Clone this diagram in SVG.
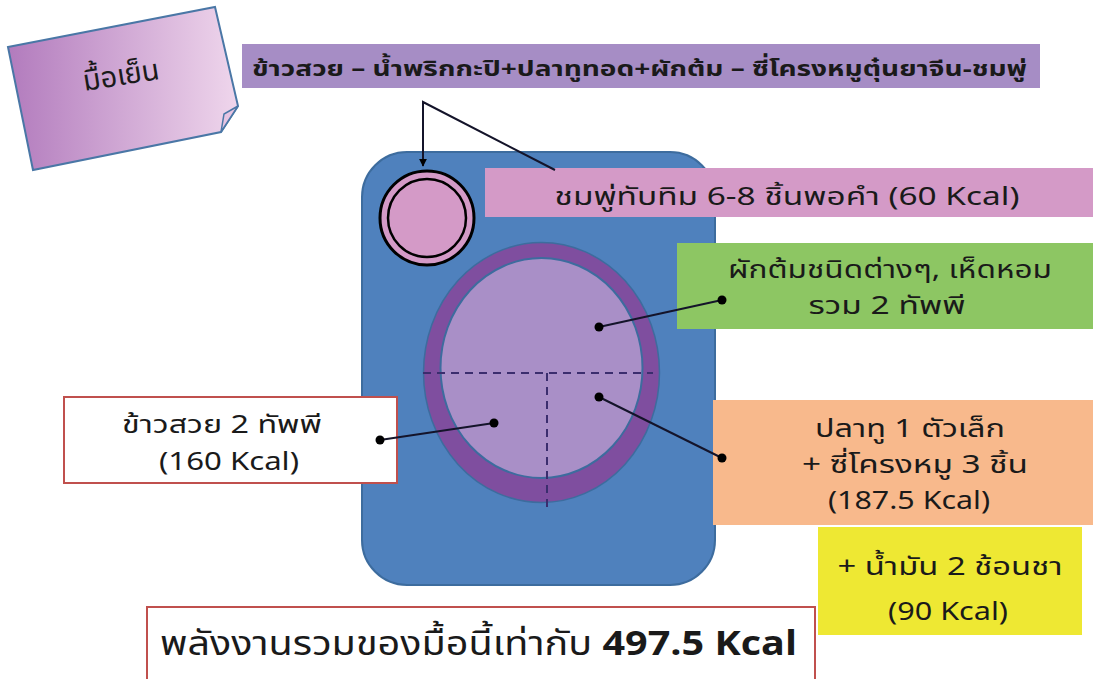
<svg xmlns="http://www.w3.org/2000/svg" width="1093" height="679" viewBox="0 0 1093 679">
<style>
text{font-family:"Noto Sans Thai","Noto Sans","DejaVu Sans",sans-serif;fill:#1a1a1a;}
.t26{font-size:25px;text-anchor:middle;}
.conn{stroke:#14142a;stroke-width:2;fill:none;}
.dot{fill:#000;}
.dash{stroke:#3b2d6e;stroke-width:2;stroke-dasharray:8 6;fill:none;}
</style>
<defs>
<linearGradient id="noteGrad" x1="0" y1="0" x2="1" y2="0">
<stop offset="0" stop-color="#b27bbd"/>
<stop offset="1" stop-color="#efd6ec"/>
</linearGradient>
<marker id="arr" viewBox="0 0 10 10" refX="9" refY="5" markerWidth="4" markerHeight="4" orient="auto">
<path d="M0,0 L10,5 L0,10 z" fill="#000"/>
</marker>
</defs>
<rect width="1093" height="679" fill="#ffffff"/>

<g id="note">
<polygon points="8,47 215,7 238,106 221,132 33,170" fill="url(#noteGrad)" stroke="#4a77a6" stroke-width="2"/>
<polygon points="238,106 221,132 224,114" fill="#e6c4e2" stroke="#4a77a6" stroke-width="1.5"/>
<text x="121" y="85" font-size="29" text-anchor="middle" transform="rotate(-9 121 75)">มื้อเย็น</text>
</g>

<g id="banner">
<rect x="242" y="44" width="798" height="44" fill="#a68dc5"/>
<text x="252" y="76" font-size="22" font-weight="bold" textLength="775" lengthAdjust="spacingAndGlyphs">ข้าวสวย – น้ำพริกกะปิ+ปลาทูทอด+ผักต้ม – ซี่โครงหมูตุ๋นยาจีน-ชมพู่</text>
</g>

<g id="tray">
<rect x="362" y="152" width="353" height="433" rx="45" ry="45" fill="#4f81bd" stroke="#3d6c9e" stroke-width="2"/>
</g>

<g id="plate">
<ellipse cx="541.5" cy="372.5" rx="118" ry="130" fill="#7f4e9f" stroke="#3d6c9e" stroke-width="1.5"/>
<ellipse cx="541.5" cy="368" rx="101" ry="110" fill="#a98fc7" stroke="#3d6c9e" stroke-width="2"/>
<line class="dash" x1="423" y1="373" x2="653" y2="373"/>
<line class="dash" x1="547" y1="373" x2="547" y2="512"/>
</g>

<g id="fruit-bowl">
<circle cx="427" cy="218" r="47" fill="#d49ac7" stroke="#000" stroke-width="3"/>
<circle cx="427" cy="218" r="39" fill="#d49ac7" stroke="#000" stroke-width="2.5"/>
</g>

<g id="fruit-label">
<rect x="485" y="168" width="608" height="49" fill="#d49ac7"/>
<text x="787" y="205" font-size="25" text-anchor="middle" textLength="465" lengthAdjust="spacingAndGlyphs">ชมพู่ทับทิม 6-8 ชิ้นพอคำ (60 Kcal)</text>
</g>

<g id="veg-label">
<rect x="677" y="243" width="416" height="86" fill="#8dc663"/>
<text class="t26" x="890" y="278" textLength="324" lengthAdjust="spacingAndGlyphs">ผักต้มชนิดต่างๆ, เห็ดหอม</text>
<text class="t26" x="887" y="314" textLength="157" lengthAdjust="spacingAndGlyphs">รวม 2 ทัพพี</text>
</g>

<g id="fish-label">
<rect x="713" y="400" width="380" height="125" fill="#f8b98c"/>
<text class="t26" x="910" y="437" textLength="190" lengthAdjust="spacingAndGlyphs">ปลาทู 1 ตัวเล็ก</text>
<text class="t26" x="915" y="473" textLength="226" lengthAdjust="spacingAndGlyphs">+ ซี่โครงหมู 3 ชิ้น</text>
<text class="t26" x="909" y="509" textLength="162" lengthAdjust="spacingAndGlyphs">(187.5 Kcal)</text>
</g>

<g id="oil-label">
<rect x="818" y="527" width="264" height="108" fill="#eee833"/>
<text class="t26" x="950" y="575" textLength="225" lengthAdjust="spacingAndGlyphs">+ น้ำมัน 2 ช้อนชา</text>
<text class="t26" x="948" y="620" textLength="120" lengthAdjust="spacingAndGlyphs">(90 Kcal)</text>
</g>

<g id="rice-label">
<rect x="64" y="397" width="333" height="86" fill="#ffffff" stroke="#c0504d" stroke-width="2"/>
<text class="t26" x="222" y="433" textLength="200" lengthAdjust="spacingAndGlyphs">ข้าวสวย 2 ทัพพี</text>
<text class="t26" x="229" y="470" textLength="140" lengthAdjust="spacingAndGlyphs">(160 Kcal)</text>
</g>

<g id="total">
<rect x="147" y="607" width="668" height="80" fill="#ffffff" stroke="#c0504d" stroke-width="2"/>
<text x="160" y="655" font-size="34" textLength="637" lengthAdjust="spacingAndGlyphs">พลังงานรวมของมื้อนี้เท่ากับ <tspan font-weight="bold">497.5 Kcal</tspan></text>
</g>

<g id="connectors">
<polyline class="conn" points="555,170 423,102 423,166" marker-end="url(#arr)"/>
<line class="conn" x1="599" y1="327" x2="722" y2="300"/>
<circle class="dot" cx="599" cy="327" r="4.5"/>
<circle class="dot" cx="722" cy="300" r="4.5"/>
<line class="conn" x1="599" y1="397" x2="722" y2="458"/>
<circle class="dot" cx="599" cy="397" r="4.5"/>
<circle class="dot" cx="722" cy="458" r="4.5"/>
<line class="conn" x1="494" y1="423" x2="380" y2="440"/>
<circle class="dot" cx="494" cy="423" r="4.5"/>
<circle class="dot" cx="380" cy="440" r="4.5"/>
</g>
</svg>
